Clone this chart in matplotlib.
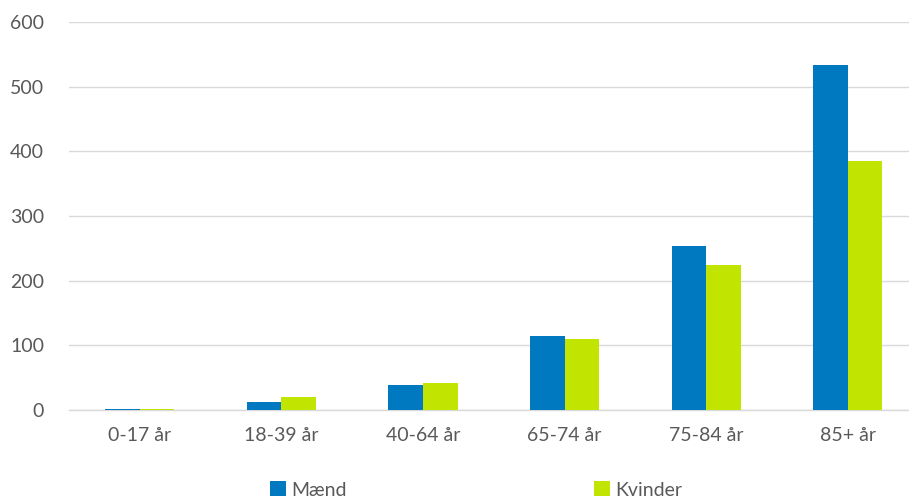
import matplotlib
matplotlib.use("Agg")
import matplotlib.pyplot as plt
import numpy as np

categories = ["0-17 år", "18-39 år", "40-64 år", "65-74 år", "75-84 år", "85+ år"]
maend = [2, 12, 38, 114, 254, 534]
kvinder = [2, 20, 41, 110, 224, 385]
yticks = [0, 100, 200, 300, 400, 500, 600]

plt.rcParams['font.family'] = ['Lato', 'DejaVu Sans']
blue = "#0079C1"
green = "#C1E500"
txt = "#595959"

fig = plt.figure(figsize=(9.09, 5.0), dpi=100)
ax = fig.add_axes([69/909, 1-410/500, 1-69/909, (410-22)/500])

x = np.arange(len(categories))
w = 0.245
ax.bar(x - w/2, maend, w, color=blue, label="Mænd", zorder=3)
ax.bar(x + w/2, kvinder, w, color=green, label="Kvinder", zorder=3)

ax.set_ylim(0, 600)
ax.set_xlim(-0.5, (909-69)/141.6 - 0.5)
ax.set_yticks(yticks)
ax.set_yticklabels([str(v) for v in yticks])
ax.set_xticks(x)
ax.set_xticklabels(categories)
ax.yaxis.grid(True, color="#d9d9d9", linewidth=1.0, zorder=0)
ax.set_axisbelow(True)
for s in ["top", "right", "left"]:
    ax.spines[s].set_visible(False)
ax.spines["bottom"].set_color("#d9d9d9")
ax.spines["bottom"].set_linewidth(1.0)
ax.tick_params(axis="both", length=0, labelsize=14, colors=txt)
ax.tick_params(axis="y", pad=18)
ax.tick_params(axis="x", pad=12)

handles, labels = ax.get_legend_handles_labels()
leg = fig.legend(handles, labels, loc="center", bbox_to_anchor=(0.524, 0.02),
                 ncol=2, frameon=False, fontsize=14, handlelength=0.8,
                 handleheight=0.8, columnspacing=12.7, handletextpad=0.3)
for t in leg.get_texts():
    t.set_color(txt)

fig.savefig("out.png", dpi=100)
